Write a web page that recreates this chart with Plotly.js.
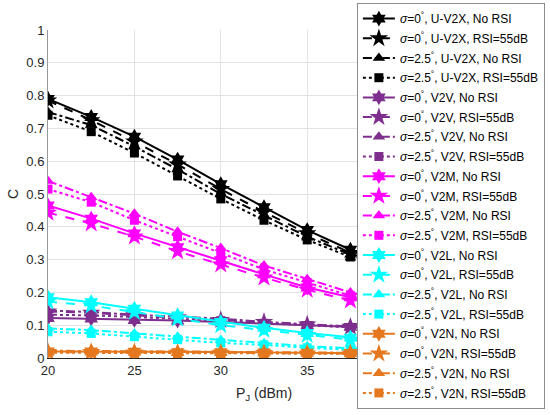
<!DOCTYPE html>
<html>
<head>
<meta charset="utf-8">
<script src="https://cdn.plot.ly/plotly-3.0.1.min.js"></script>
<style>html,body{margin:0;padding:0;background:#fff;}#chart{width:550px;height:415px;}</style>
</head>
<body>
<div id="chart"></div>
<script>
// x values: jamming power P_J (dBm)
var PJ = [20, 22.5, 25, 27.5, 30, 32.5, 35, 37.5, 40];
var xTicks = [20, 25, 30, 35];

// U-V2X
var uv2x_s0_noRSI  = [0.790, 0.735, 0.675, 0.605, 0.530, 0.460, 0.390, 0.330, 0.270];
var uv2x_s0_RSI    = [0.785, 0.725, 0.660, 0.590, 0.515, 0.445, 0.380, 0.320, 0.262];
var uv2x_s25_noRSI = [0.750, 0.710, 0.645, 0.575, 0.500, 0.435, 0.370, 0.315, 0.258];
var uv2x_s25_RSI   = [0.740, 0.690, 0.625, 0.555, 0.485, 0.420, 0.360, 0.308, 0.252];
// V2V
var v2v_s0_noRSI   = [0.122, 0.120, 0.116, 0.114, 0.110, 0.105, 0.100, 0.095, 0.090];
var v2v_s0_RSI     = [0.142, 0.138, 0.130, 0.124, 0.116, 0.110, 0.102, 0.095, 0.090];
var v2v_s25_noRSI  = [0.145, 0.140, 0.132, 0.126, 0.120, 0.110, 0.102, 0.096, 0.090];
var v2v_s25_RSI    = [0.132, 0.130, 0.125, 0.120, 0.114, 0.106, 0.099, 0.092, 0.087];
// V2M
var v2m_s0_noRSI   = [0.465, 0.425, 0.380, 0.338, 0.298, 0.255, 0.215, 0.185, 0.158];
var v2m_s0_RSI     = [0.443, 0.410, 0.370, 0.325, 0.285, 0.245, 0.208, 0.175, 0.150];
var v2m_s25_noRSI  = [0.540, 0.490, 0.440, 0.385, 0.335, 0.282, 0.240, 0.200, 0.170];
var v2m_s25_RSI    = [0.515, 0.475, 0.420, 0.370, 0.320, 0.270, 0.230, 0.190, 0.162];
// V2L
var v2l_s0_noRSI   = [0.185, 0.170, 0.150, 0.130, 0.110, 0.092, 0.076, 0.062, 0.050];
var v2l_s0_RSI     = [0.172, 0.160, 0.140, 0.120, 0.100, 0.085, 0.070, 0.056, 0.045];
var v2l_s25_noRSI  = [0.090, 0.085, 0.075, 0.065, 0.055, 0.045, 0.036, 0.030, 0.025];
var v2l_s25_RSI    = [0.080, 0.075, 0.065, 0.056, 0.046, 0.040, 0.031, 0.025, 0.021];
// V2N
var v2n_s0_noRSI   = [0.020, 0.020, 0.019, 0.018, 0.018, 0.017, 0.016, 0.015, 0.014];
var v2n_s0_RSI     = [0.018, 0.018, 0.017, 0.016, 0.016, 0.015, 0.014, 0.014, 0.013];
var v2n_s25_noRSI  = [0.022, 0.022, 0.021, 0.020, 0.019, 0.018, 0.017, 0.016, 0.015];
var v2n_s25_RSI    = [0.016, 0.016, 0.015, 0.015, 0.014, 0.014, 0.013, 0.012, 0.012];

var groups = ['U-V2X', 'V2V', 'V2M', 'V2L', 'V2N'];
var groupColors = ['#000000', '#7E2F8E', '#FF00FF', '#00FFFF', '#E5781E'];
var groupData = [
  [uv2x_s0_noRSI, uv2x_s0_RSI, uv2x_s25_noRSI, uv2x_s25_RSI],
  [v2v_s0_noRSI, v2v_s0_RSI, v2v_s25_noRSI, v2v_s25_RSI],
  [v2m_s0_noRSI, v2m_s0_RSI, v2m_s25_noRSI, v2m_s25_RSI],
  [v2l_s0_noRSI, v2l_s0_RSI, v2l_s25_noRSI, v2l_s25_RSI],
  [v2n_s0_noRSI, v2n_s0_RSI, v2n_s25_noRSI, v2n_s25_RSI]
];
var variantLabels = [
  '<i>σ</i>=0<sup>°</sup>, {g}, No RSI',
  '<i>σ</i>=0<sup>°</sup>, {g}, RSI=55dB',
  '<i>σ</i>=2.5<sup>°</sup>, {g}, No RSI',
  '<i>σ</i>=2.5<sup>°</sup>, {g}, RSI=55dB'
];
var variantDash = ['solid', 'dash', 'dashdot', 'dot'];
var variantSymbol = ['hexagram', 'star', 'triangle-up', 'square'];
var variantSize = [12, 14, 11, 9];

var traces = [];
for (var g = 0; g < groups.length; g++) {
  for (var v = 0; v < 4; v++) {
    traces.push({
      x: PJ,
      y: groupData[g][v],
      type: 'scatter',
      mode: 'lines+markers',
      name: variantLabels[v].replace('{g}', groups[g]),
      legendgroup: 'g' + g + 'v' + v,
      line: {color: groupColors[g], width: 2, dash: variantDash[v]},
      marker: {color: groupColors[g], symbol: variantSymbol[v], size: variantSize[v]}
    });
  }
}

var layout = {
  width: 550,
  height: 415,
  margin: {l: 48, r: 70, t: 30, b: 57, autoexpand: false},
  paper_bgcolor: '#ffffff',
  plot_bgcolor: '#ffffff',
  font: {family: 'Liberation Sans, Arial, sans-serif', size: 13, color: '#262626'},
  showlegend: true,
  xaxis: {
    range: [20, 45],
    tickvals: xTicks,
    showgrid: true,
    gridcolor: '#e3e3e3',
    zeroline: false,
    showline: true,
    linecolor: '#262626',
    linewidth: 1,
    ticks: '',
    tickfont: {size: 13, color: '#262626'},
    title: {text: 'P<sub>J</sub> (dBm)', font: {size: 14, color: '#262626'}, standoff: 11}
  },
  yaxis: {
    range: [0, 1],
    dtick: 0.1,
    showgrid: true,
    gridcolor: '#e3e3e3',
    zeroline: false,
    showline: true,
    linecolor: '#999999',
    linewidth: 1,
    ticks: '',
    tickfont: {size: 13, color: '#262626'},
    title: {text: 'C', font: {size: 14, color: '#262626'}, standoff: 4}
  },
  legend: {
    x: 0.715,
    y: 1.082,
    xanchor: 'left',
    yanchor: 'top',
    maxheight: 412,
    bgcolor: '#ffffff',
    bordercolor: '#8c8c8c',
    borderwidth: 1,
    font: {size: 12, color: '#000000'},
    itemwidth: 32,
    tracegroupgap: 0.7
  }
};

Plotly.newPlot('chart', traces, layout, {displayModeBar: false, staticPlot: true});
</script>
</body>
</html>
